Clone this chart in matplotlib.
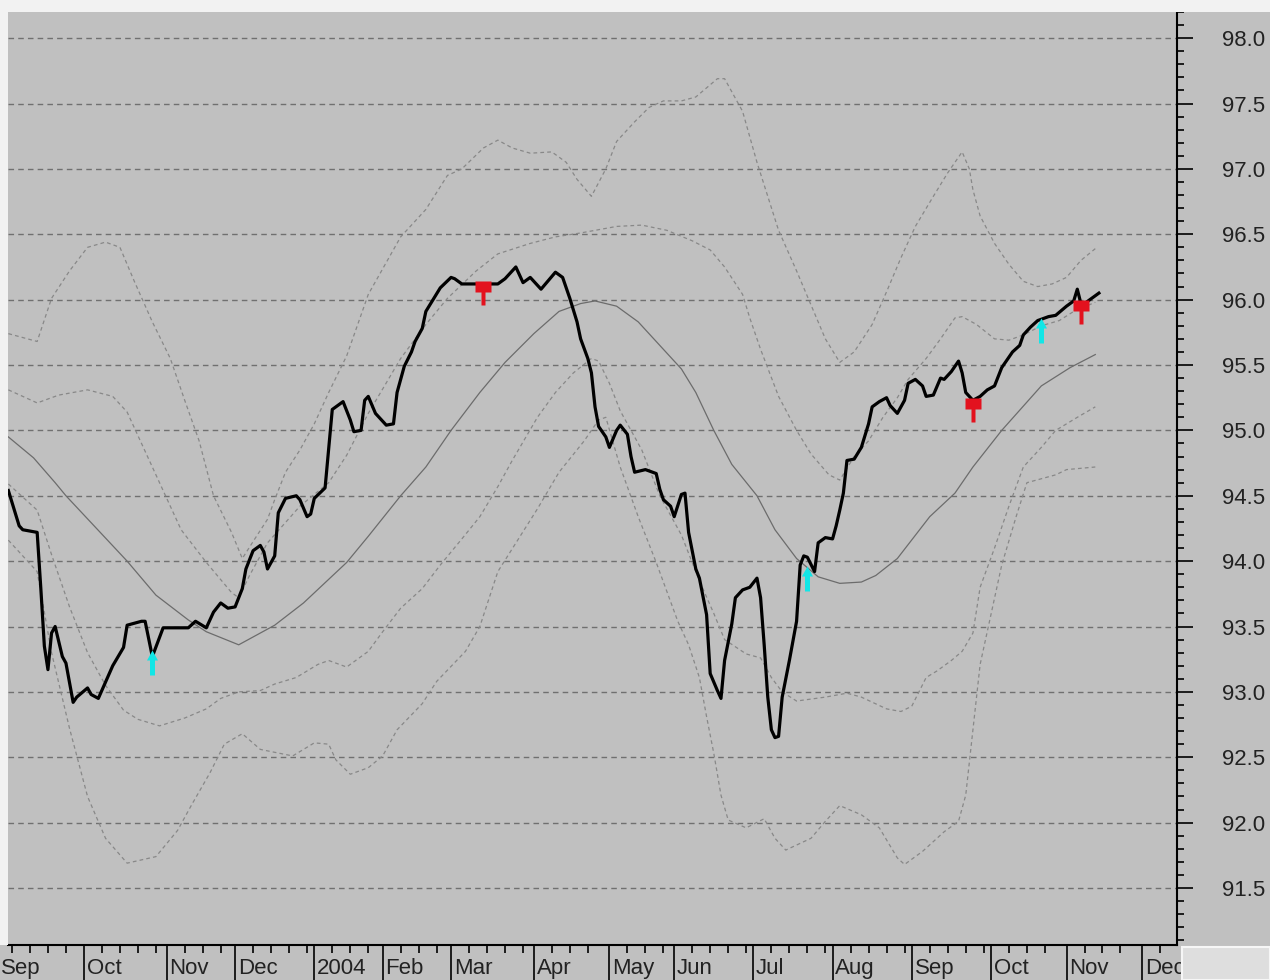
import matplotlib
matplotlib.use("Agg")
import matplotlib.pyplot as plt
from matplotlib.path import Path
from matplotlib.patches import Rectangle
from matplotlib.ticker import MultipleLocator, FormatStrFormatter

plt.rcParams['font.family'] = ['Liberation Sans', 'DejaVu Sans']

# x = trading session number, 0 = first session on the chart (early Sep 2003)
price_day = [0, 3, 4, 8, 9, 10, 11, 12, 13, 15,
             16, 18, 19, 22, 23, 25, 29, 32, 33, 37,
             38, 40, 43, 50, 52, 55, 57, 59, 61, 63,
             65, 66, 68, 70, 71, 72, 74, 75, 77, 80,
             81, 83, 84, 85, 88, 90, 91, 93, 95, 96,
             98, 99, 100, 102, 105, 107, 108, 110, 112, 113,
             115, 116, 118, 120, 123, 124, 126, 136, 138, 141,
             143, 145, 148, 152, 154, 156, 158, 159, 161, 162,
             163, 164, 166, 167, 169, 170, 172, 173, 174, 177,
             180, 181, 182, 184, 185, 187, 188, 189, 191, 192,
             194, 195, 197, 198, 199, 201, 202, 204, 206, 208,
             209, 210, 211, 212, 213, 214, 215, 217, 219, 220,
             221, 222, 224, 225, 227, 229, 230, 231, 232, 233,
             235, 237, 239, 240, 242, 244, 245, 247, 249, 250,
             252, 254, 255, 257, 259, 260, 262, 264, 265, 266,
             268, 270, 272, 274, 276, 277, 279, 281, 282, 284,
             286, 289, 291, 294, 296, 297, 298, 299, 301, 303]
price = [94.54, 94.27, 94.24, 94.22, 93.8, 93.35, 93.17, 93.45, 93.5, 93.27,
         93.22, 92.92, 92.96, 93.03, 92.98, 92.95, 93.2, 93.34, 93.51, 93.54,
         93.54, 93.27, 93.49, 93.49, 93.54, 93.49, 93.61, 93.68, 93.64, 93.65,
         93.79, 93.94, 94.08, 94.12, 94.07, 93.94, 94.04, 94.37, 94.48, 94.5,
         94.47, 94.34, 94.36, 94.48, 94.56, 95.16, 95.18, 95.22, 95.08, 94.99,
         95.0, 95.23, 95.26, 95.13, 95.04, 95.05, 95.29, 95.49, 95.6, 95.68,
         95.78, 95.91, 96.0, 96.09, 96.17, 96.16, 96.12, 96.12, 96.16, 96.25,
         96.13, 96.17, 96.08, 96.21, 96.17, 96.01, 95.83, 95.7, 95.55, 95.44,
         95.18, 95.03, 94.95, 94.87, 95.0, 95.04, 94.97, 94.8, 94.68, 94.7,
         94.67, 94.55, 94.47, 94.42, 94.34, 94.51, 94.52, 94.22, 93.94, 93.87,
         93.59, 93.14, 93.01, 92.95, 93.24, 93.52, 93.72, 93.78, 93.8, 93.87,
         93.72, 93.36, 92.96, 92.71, 92.65, 92.66, 92.96, 93.24, 93.54, 93.97,
         94.04, 94.03, 93.92, 94.14, 94.18, 94.17, 94.27, 94.39, 94.52, 94.77,
         94.78, 94.87, 95.05, 95.18, 95.22, 95.25, 95.19, 95.13, 95.23, 95.36,
         95.39, 95.34, 95.26, 95.27, 95.4, 95.39, 95.45, 95.53, 95.44, 95.29,
         95.23, 95.26, 95.31, 95.34, 95.48, 95.52, 95.6, 95.65, 95.73, 95.79,
         95.84, 95.87, 95.88, 95.95, 95.99, 96.08, 95.97, 95.97, 96.01, 96.05]

# moving average
ma_day = [0, 7, 13, 16, 33, 41, 50, 55, 64, 74, 82, 94, 100, 109, 116,
          123, 131, 138, 146, 153, 159, 163, 169, 175, 180, 187, 191, 196, 201, 208,
          213, 219, 225, 231, 237, 241, 247, 256, 263, 268, 276, 287, 295, 302]
ma = [94.95, 94.79, 94.6, 94.5, 94.0, 93.74, 93.55, 93.46, 93.36, 93.51, 93.68, 93.99, 94.19, 94.5, 94.72,
      95.0, 95.29, 95.52, 95.74, 95.91, 95.97, 95.99, 95.95, 95.83, 95.68, 95.47, 95.29, 95.0, 94.74, 94.5,
      94.24, 94.02, 93.88, 93.83, 93.84, 93.89, 94.02, 94.34, 94.52, 94.72, 95.0, 95.34, 95.48, 95.58]

# outer upper band
up2_day = [0, 8, 12, 17, 22, 27, 31, 35, 40, 45, 49, 53, 57, 62, 65, 68, 72, 74, 77, 81,
           85, 89, 94, 100, 109, 116, 122, 126, 132, 136, 140, 145, 151, 155, 158, 162, 166, 169, 174, 178,
           182, 187, 191, 194, 197, 199, 204, 208, 211, 214, 219, 223, 227, 231, 235, 240, 244, 248, 252, 257,
           261, 265, 267, 268, 270, 274, 278, 282, 286, 290, 294, 298, 302]
up2 = [95.74, 95.68, 96.01, 96.22, 96.4, 96.44, 96.4, 96.14, 95.83, 95.55, 95.23, 94.92, 94.5, 94.22, 94.02, 94.15, 94.32, 94.47, 94.68, 94.85,
       95.05, 95.29, 95.57, 96.04, 96.48, 96.69, 96.95, 97.0, 97.16, 97.22, 97.16, 97.12, 97.13, 97.05, 96.92, 96.79, 97.0, 97.21, 97.36, 97.47,
       97.52, 97.52, 97.55, 97.62, 97.69, 97.69, 97.44, 97.05, 96.79, 96.53, 96.22, 95.96, 95.7, 95.52, 95.6, 95.81, 96.06, 96.32, 96.56, 96.79,
       96.97, 97.13, 97.0, 96.84, 96.64, 96.43, 96.27, 96.14, 96.1, 96.12, 96.17, 96.3, 96.39]

# inner upper band
up1_day = [0, 8, 14, 22, 29, 33, 38, 42, 48, 55, 62, 64, 67, 72, 81, 89, 94, 100, 109, 116,
           122, 130, 136, 145, 152, 159, 169, 176, 183, 190, 195, 199, 204, 206, 209, 214, 219, 223, 228, 231,
           235, 239, 243, 247, 250, 255, 259, 263, 265, 269, 274, 278, 282, 287, 292, 296, 302]
up1 = [95.31, 95.21, 95.27, 95.31, 95.26, 95.14, 94.84, 94.6, 94.24, 93.99, 93.76, 93.72, 93.89, 94.14, 94.42, 94.6, 94.81, 95.13, 95.55, 95.81,
       96.01, 96.22, 96.35, 96.43, 96.48, 96.51, 96.56, 96.57, 96.53, 96.45, 96.38, 96.25, 96.04, 95.86, 95.62, 95.26, 95.0, 94.82, 94.66, 94.62,
       94.8, 94.92, 95.1, 95.25, 95.39, 95.55, 95.7, 95.86, 95.87, 95.81, 95.7, 95.69, 95.73, 95.8, 95.84, 95.91, 95.98]

# inner lower band
lo1_day = [0, 8, 12, 17, 22, 27, 32, 36, 42, 49, 55, 59, 64, 70, 74, 80, 86, 89, 94, 100,
           104, 109, 115, 120, 126, 131, 136, 140, 147, 152, 157, 162, 164, 167, 170, 176, 181, 187, 192, 196,
           199, 205, 209, 212, 215, 219, 227, 233, 237, 244, 248, 251, 255, 258, 262, 265, 268, 270, 274, 278,
           282, 287, 291, 297, 302]
lo1 = [94.59, 94.39, 94.05, 93.65, 93.3, 93.05, 92.86, 92.79, 92.74, 92.8, 92.87, 92.95, 93.0, 93.01, 93.06, 93.11, 93.21, 93.24, 93.19, 93.31,
       93.46, 93.64, 93.79, 93.97, 94.17, 94.34, 94.57, 94.77, 95.1, 95.29, 95.44, 95.55, 95.53, 95.36, 95.15, 94.85, 94.5, 94.2, 93.85, 93.6,
       93.4, 93.29, 93.26, 93.11, 93.0, 92.93, 92.96, 92.99, 92.96, 92.87, 92.85, 92.89, 93.11, 93.16, 93.24, 93.31, 93.45, 93.8, 94.1, 94.42,
       94.72, 94.87, 95.0, 95.1, 95.18]

# outer lower band
lo2_day = [0, 8, 12, 17, 22, 27, 33, 41, 47, 51, 56, 60, 65, 70, 79, 85, 89, 91, 95, 100,
           104, 108, 115, 119, 127, 131, 136, 147, 153, 160, 164, 166, 170, 175, 180, 186, 189, 192, 194, 196,
           198, 200, 205, 210, 213, 216, 223, 227, 231, 237, 242, 247, 249, 254, 260, 264, 266, 268, 270, 273,
           276, 280, 283, 291, 294, 302]
lo2 = [94.16, 93.92, 93.3, 92.72, 92.2, 91.88, 91.69, 91.74, 91.94, 92.14, 92.38, 92.6, 92.68, 92.56, 92.51, 92.61, 92.6, 92.48, 92.37, 92.42,
       92.51, 92.71, 92.91, 93.08, 93.31, 93.5, 93.92, 94.4, 94.68, 94.92, 95.08, 95.1, 94.72, 94.34, 93.99, 93.54, 93.36, 93.11, 92.81, 92.53,
       92.21, 92.02, 91.96, 92.03, 91.88, 91.79, 91.88, 92.01, 92.13, 92.06, 91.96, 91.73, 91.68, 91.78, 91.93, 92.01, 92.21, 92.71, 93.21, 93.59,
       93.97, 94.34, 94.6, 94.66, 94.7, 94.72]

# signals
sell_day = [132, 268, 298]
sell_px = [96.14, 95.25, 96.0]
buy_day = [40, 222, 287]
buy_px = [93.32, 93.96, 95.86]

# first session of each month (Sep 2003 starts just left of the window)
month_day = [-4, 21, 44, 63, 85, 104, 123, 146, 167, 185, 207, 229, 251, 273, 294, 315]
month_label = ["Sep", "Oct", "Nov", "Dec", "2004", "Feb", "Mar", "Apr", "May",
               "Jun", "Jul", "Aug", "Sep", "Oct", "Nov", "Dec"]

W, H = 1270, 980
BG = "#c0c0c0"
fig = plt.figure(figsize=(W / 100, H / 100), dpi=100, facecolor=BG)
ax = fig.add_axes([8 / W, 35 / H, 1169 / W, 933 / H])
ax.set_facecolor(BG)
x_lo, x_hi = -0.1, 324.7
ax.set_xlim(x_lo, x_hi)
ax.set_ylim(91.064, 98.2)

band_style = dict(color="#888888", lw=0.9, ls=(0, (3, 2.5)), zorder=2)
ax.plot(up2_day, up2, **band_style)
ax.plot(up1_day, up1, **band_style)
ax.plot(lo1_day, lo1, **band_style)
ax.plot(lo2_day, lo2, **band_style)
ax.plot(ma_day, ma, color="#6c6c6c", lw=0.9, zorder=3)
ax.plot(price_day, price, color="black", lw=2.3, zorder=4)

# signal glyphs: red flag below price for sells, cyan up arrow for buys
sell_mark = Path([(-8, 0), (8, 0), (8, -11), (1.5, -11), (1.5, -24), (-1.5, -24),
                  (-1.5, -11), (-8, -11), (-8, 0)], closed=True)
buy_mark = Path([(0, 0), (5.5, -10), (2.5, -10), (2.5, -25), (-2.5, -25), (-2.5, -10),
                 (-5.5, -10), (0, 0)], closed=True)
ax.plot(sell_day, sell_px, ls="none", marker=sell_mark, ms=34.6,
        mfc="#e3121e", mec="none", zorder=5)
ax.plot(buy_day, buy_px, ls="none", marker=buy_mark, ms=36,
        mfc="#12e6e6", mec="none", zorder=5)

# y axis on the right
ax.yaxis.tick_right()
ax.yaxis.set_major_locator(MultipleLocator(0.5))
ax.yaxis.set_minor_locator(MultipleLocator(0.1))
ax.yaxis.set_major_formatter(FormatStrFormatter("%.1f"))
ax.tick_params(axis="y", which="major", direction="out", length=11.5, width=1.2,
               pad=21, labelsize=16, labelcolor="#222222", color="black")
ax.tick_params(axis="y", which="minor", direction="out", length=5, width=1.2, color="black")
ax.grid(axis="y", which="major", ls=(0, (4, 3)), color="#707070", lw=1.0, zorder=1)

# x axis: month lines, weekly minor ticks, labels right of the month line
minor = []
for i in range(1, len(month_day)):
    start = month_day[i]
    stop = month_day[i + 1] if i + 1 < len(month_day) else 325
    minor += list(range(start + 5, stop - 1, 5))
minor += list(range(month_day[1] - 5, 0, -5))
ax.set_xticks(month_day[1:])
ax.set_xticks(minor, minor=True)
ax.tick_params(axis="x", which="major", direction="out", length=25, width=1.2,
               labelbottom=False, color="black")
ax.tick_params(axis="x", which="minor", direction="out", length=5.5, width=1.2, color="black")
for d, name in zip(month_day, month_label):
    dx = 2 if d >= x_lo else -5
    ax.annotate(name, xy=(max(d, x_lo), 0), xycoords=("data", "axes fraction"),
                xytext=(dx, -9), textcoords="offset points", ha="left", va="top",
                fontsize=16, color="#222222", annotation_clip=False)

for side in ["left", "top"]:
    ax.spines[side].set_visible(False)
for side in ["right", "bottom"]:
    ax.spines[side].set_linewidth(1.5)
    ax.spines[side].set_color("black")

# window chrome: light strips and the corner box
fig.patches.append(Rectangle((0, 1 - 12 / H), 1, 12 / H, transform=fig.transFigure,
                             facecolor="#f2f2f2", edgecolor="none"))
fig.patches.append(Rectangle((0, 35 / H), 8 / W, 933 / H, transform=fig.transFigure,
                             facecolor="#f2f2f2", edgecolor="none"))
fig.patches.append(Rectangle((1182 / W, 0), 88 / W, 33 / H, transform=fig.transFigure,
                             facecolor="#dedede", edgecolor="#f6f6f6", lw=1.5))

fig.savefig("out.png", dpi=100, facecolor=BG)
